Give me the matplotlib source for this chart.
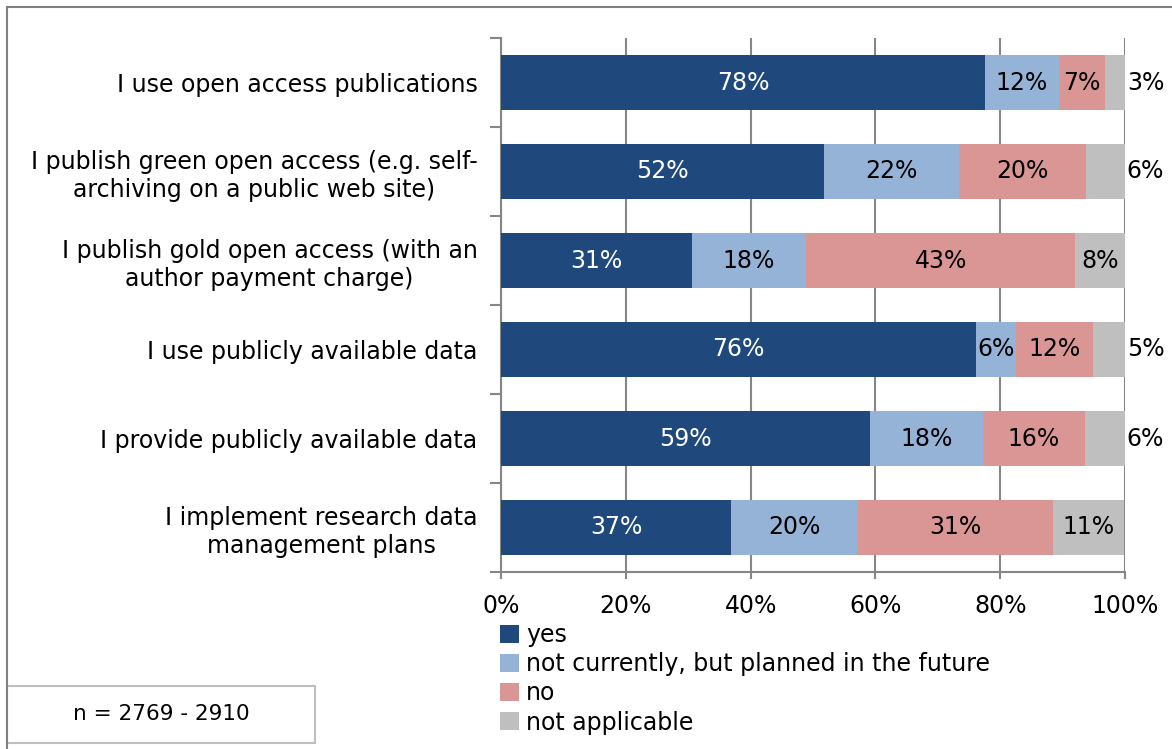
import numpy as np
import matplotlib.pyplot as plt
from matplotlib.patches import Rectangle
from matplotlib.lines import Line2D
from matplotlib.ticker import FixedLocator

# Data (share of respondents, %)
categories = [
    "I use open access publications",
    "I publish green open access (e.g. self-\narchiving on a public web site)",
    "I publish gold open access (with an\nauthor payment charge)",
    "I use publicly available data",
    "I provide publicly available data",
    "I implement research data\nmanagement plans",
]
series_names = ["yes", "not currently, but planned in the future", "no", "not applicable"]
yes = [77.6, 51.8, 30.6, 76.2, 59.1, 36.9]
planned = [11.8, 21.6, 18.3, 6.4, 18.1, 20.2]
no = [7.4, 20.3, 43.1, 12.2, 16.4, 31.4]
not_applicable = [3.2, 6.3, 8.0, 5.2, 6.4, 11.4]
xtick_labels = ["0%", "20%", "40%", "60%", "80%", "100%"]

colors = ["#1F497D", "#95B3D7", "#D99694", "#BFBFBF"]
text_colors = ["white", "black", "black", "black"]

plt.rcParams['font.family'] = ['DejaVu Sans']
FS = 17

fig = plt.figure(figsize=(11.72, 7.49), dpi=100)
ax = fig.add_axes([501/1172, 1 - 572/749, 624/1172, 534/749])

y = np.arange(len(categories))
data = [yes, planned, no, not_applicable]
left = np.zeros(len(categories))
handles = []
for i, vals in enumerate(data):
    vals = np.array(vals)
    b = ax.barh(y, vals, left=left, height=0.61, color=colors[i], zorder=3,
                label=series_names[i])
    handles.append(b)
    for j, v in enumerate(vals):
        lbl = "%.0f%%" % v
        if i == 3 and v < 7:
            # small last segment: label goes outside, right of the bar
            ax.text(100.3, j, lbl, ha='left', va='center', fontsize=FS, color='black')
        else:
            ax.text(left[j] + v / 2, j, lbl, ha='center', va='center',
                    fontsize=FS, color=text_colors[i], zorder=4)
    left += vals

ax.set_xlim(0, 100)
ax.set_ylim(len(categories) - 0.5, -0.5)
ax.set_xticks(np.arange(0, 101, 20))
ax.set_xticklabels(xtick_labels, fontsize=FS)
ax.set_yticks(y)
ax.set_yticklabels(categories, fontsize=FS, multialignment='center')
ax.yaxis.set_minor_locator(FixedLocator(np.arange(-0.5, len(categories), 1)))
ax.tick_params(axis='y', which='major', length=0, pad=17)
ax.tick_params(axis='y', which='minor', length=8, color='#868686', width=1.5)
ax.tick_params(axis='x', length=5, color='#868686', width=1.5, pad=11)
ax.xaxis.grid(True, color='#868686', linewidth=1.5, zorder=0)
ax.set_axisbelow(True)
for s in ['top', 'right']:
    ax.spines[s].set_visible(False)
for s in ['left', 'bottom']:
    ax.spines[s].set_color('#868686')
    ax.spines[s].set_linewidth(1.5)

leg = fig.legend(handles=handles, loc='upper left', bbox_to_anchor=(500/1172, 1 - 623/749),
                 frameon=False, fontsize=FS, handlelength=0.8, handleheight=0.8,
                 handletextpad=0.3, labelspacing=0.22, borderaxespad=0, borderpad=0)

# outer frame lines (left and top)
fig.add_artist(Line2D([7/1172, 7/1172], [0, 1 - 7/749], transform=fig.transFigure,
                      color='#808080', linewidth=1.5))
fig.add_artist(Line2D([7/1172, 1], [1 - 7/749, 1 - 7/749], transform=fig.transFigure,
                      color='#808080', linewidth=1.5))

# sample size box
fig.add_artist(Rectangle((7/1172, 1 - 743/749), 308/1172, 57/749, transform=fig.transFigure,
                         facecolor='white', edgecolor='#BFBFBF', linewidth=1.5))
fig.text(161/1172, 1 - 714/749, "n = 2769 - 2910", ha='center', va='center', fontsize=15.5)

fig.savefig("out.png", dpi=100)
